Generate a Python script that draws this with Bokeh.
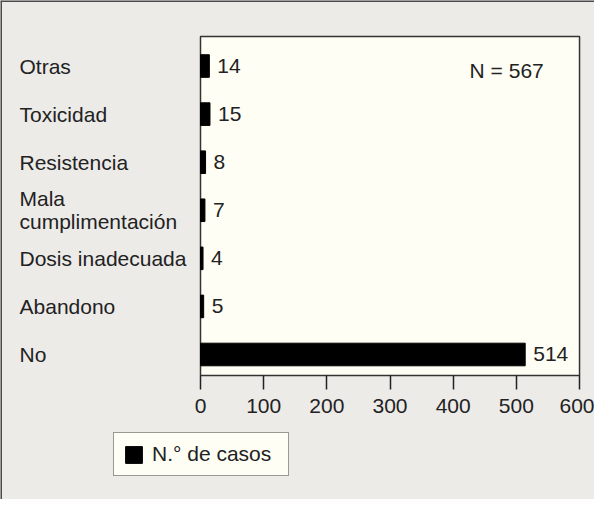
from bokeh.plotting import figure
from bokeh.models import Range1d, FixedTicker, Legend, LegendItem, ColumnDataSource, LinearAxis
from bokeh.core.properties import value
from bokeh.embed import file_html
from bokeh.resources import INLINE

# ---- data ----
categories = ["Otras", "Toxicidad", "Resistencia", "Mala\ncumplimentación",
              "Dosis inadecuada", "Abandono", "No"]
casos = [14, 15, 8, 7, 4, 5, 514]
x_ticks = [0, 100, 200, 300, 400, 500, 600]
total_label = "N = 567"
series_name = "N.° de casos"

FONT = "Liberation Sans"
FS = "21px"
TXT = "#222222"
CREAM = "#fefef4"
GREY = "#ecebe8"

n = len(categories)
ypos = [n - 1 - i for i in range(n)]
src = ColumnDataSource(dict(y=ypos, v=casos, t=[str(c) for c in casos]))

# plot area extents (in data units) and the whole canvas range around it
x0, x1 = 0, 600
yb, yt = -0.437, 6.614
XL, XR, YB, YT = -316.6, 623.7, -3.016, 7.363
p = figure(width=594, height=499, output_backend="svg", toolbar_location=None,
           x_range=Range1d(XL, XR), y_range=Range1d(YB, YT),
           min_border=0, x_axis_location=None, y_axis_location=None)
p.background_fill_color = GREY
p.border_fill_color = GREY
p.outline_line_color = None
p.grid.visible = False

# outer frame lines (top and left)
p.segment(x0=[XL, XL], y0=[YT, YT], x1=[XR, XL], y1=[YT, YB],
          line_color="#4a4a4a", line_width=3)

# plot area
p.quad(left=[x0], right=[x1], bottom=[yb], top=[yt], fill_color=CREAM,
       line_color="#333333", line_width=1.5)

ax = LinearAxis(fixed_location=yb)
ax.ticker = FixedTicker(ticks=x_ticks)
ax.axis_line_color = None
ax.major_tick_out = 14
ax.major_tick_in = 0
ax.minor_tick_line_color = None
ax.major_tick_line_color = "#222222"
ax.major_tick_line_width = 1.5
ax.major_label_text_font = FONT
ax.major_label_text_font_size = FS
ax.major_label_text_color = TXT
ax.major_label_standoff = 9
p.add_layout(ax, "below")

r = p.hbar(y="y", right="v", left=0, height=0.47, source=src,
           fill_color="black", line_color="black")
p.text(x="v", y="y", text="t", source=src, x_offset=8, text_baseline="middle",
       text_font=value(FONT), text_font_size=FS, text_color=TXT)

lab = ColumnDataSource(dict(x=[-286.5] * n, y=ypos, t=categories))
p.text(x="x", y="y", text="t", source=lab, text_baseline="middle", text_align="left",
       text_font=value(FONT), text_font_size=FS, text_color=TXT, text_line_height=1.0)

p.text(x=[426], y=[n - 1], text=[total_label], y_offset=4, text_baseline="middle",
       text_align="left", text_font=value(FONT), text_font_size=FS, text_color=TXT)

legend = Legend(items=[LegendItem(label=series_name, renderers=[r])],
                location=(113, 23), margin=0, padding=9, glyph_width=21,
                glyph_height=21, label_height=21, label_width=127, label_standoff=8,
                label_text_font=FONT, label_text_font_size=FS, label_text_color=TXT,
                border_line_color="#333333", border_line_width=1.5,
                background_fill_color=CREAM, background_fill_alpha=1.0)
p.add_layout(legend)

open("out.html", "w").write(file_html(p, INLINE))
